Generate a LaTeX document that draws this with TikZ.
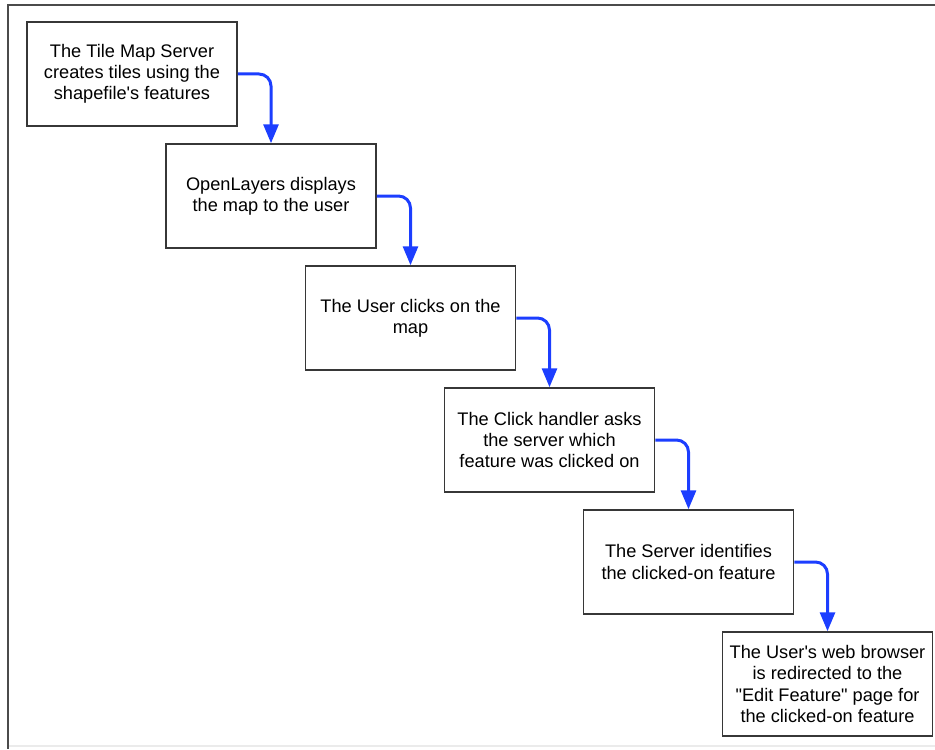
\documentclass[tikz,border=0pt]{standalone}
\usepackage{fontspec}
\setmainfont[Ligatures=TeXOff]{Liberation Sans}
\usetikzlibrary{arrows.meta}

\definecolor{flowblue}{RGB}{28,62,255}
\definecolor{boxline}{RGB}{55,55,55}

\begin{document}
\begin{tikzpicture}[x=0.5pt,y=-0.5pt,
  stagebox/.style={draw=boxline,line width=0.75pt,fill=white,minimum width=105pt,minimum height=52pt,
    align=center,inner sep=2pt,font=\fontsize{9.1}{10.6}\selectfont},
  flow/.style={draw=flowblue,line width=1.5pt,rounded corners=6pt,-{Triangle[length=9.5pt,width=7.5pt]}}]

    \useasboundingbox (0,0) rectangle (935,749);
    \draw[boxline!90,line width=1pt] (935,5) -- (8,5) -- (8,749);
    \draw[black!8,line width=0.6pt] (9,746) -- (935,746);

    \node[stagebox] (tms) at (132,74) {The Tile Map Server\\creates tiles using the\\shapefile's features};
    \node[stagebox] (ol) at (271,196) {OpenLayers displays\\the map to the user};
    \node[stagebox] (click) at (410.5,318) {The User clicks on the\\map};
    \node[stagebox] (handler) at (549.5,440) {The Click handler asks\\the server which\\feature was clicked on};
    \node[stagebox] (ident) at (688.5,562) {The Server identifies\\the clicked-on feature};
    \node[stagebox] (redirect) at (827.5,684) {The User's web browser\\is redirected to the\\"Edit Feature" page for\\the clicked-on feature};

    \draw[flow] (tms.east) -| (ol.north);
    \draw[flow] (ol.east) -| (click.north);
    \draw[flow] (click.east) -| (handler.north);
    \draw[flow] (handler.east) -| (ident.north);
    \draw[flow] (ident.east) -| (redirect.north);
\end{tikzpicture}
\end{document}
